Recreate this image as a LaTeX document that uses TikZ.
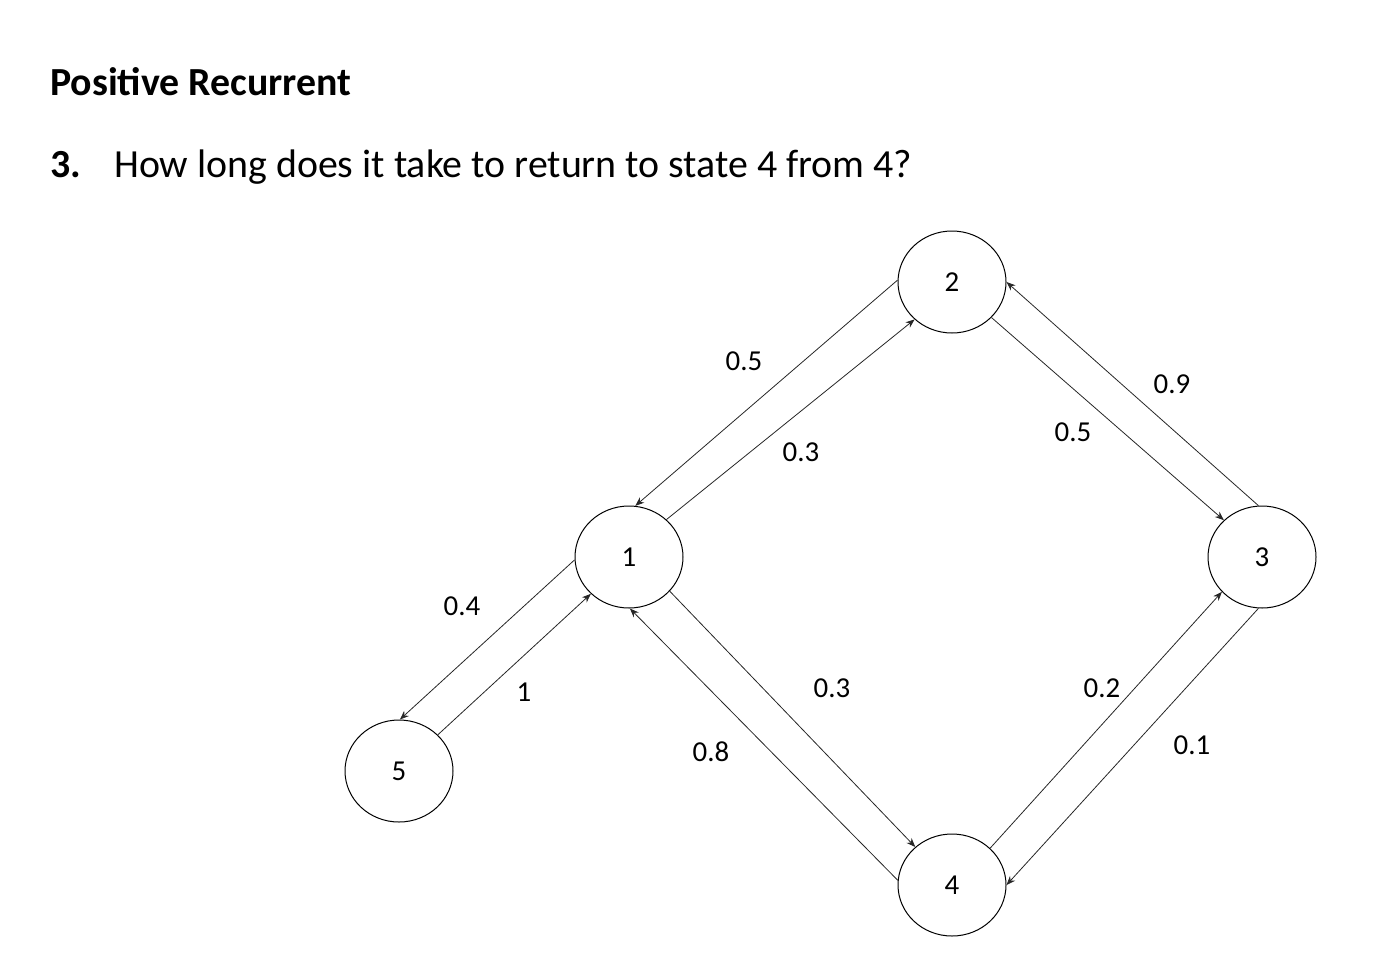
\documentclass[tikz,border=0pt]{standalone}
\usepackage{fontspec}
\setmainfont{Carlito}
\usetikzlibrary{shapes.geometric,arrows.meta}
\begin{document}
\begin{tikzpicture}[x=1bp,y=-1bp,
  st/.style={draw,ellipse,minimum width=108bp,minimum height=102bp,inner sep=0pt,font=\fontsize{29}{34}\selectfont,line width=1bp},
  ed/.style={-{Stealth[length=9bp,width=7bp]},line width=0.8bp,draw=black!85},
  lb/.style={font=\fontsize{29}{34}\selectfont}]
\useasboundingbox (0,0) rectangle (1386,956);
\node[anchor=base west,inner sep=0pt,font=\fontsize{40}{46}\selectfont\bfseries] (title) at (50,95) {Positive Recurrent};
\node[anchor=base west,inner sep=0pt,font=\fontsize{40}{46}\selectfont\bfseries] (num) at (50,177) {3.};
\node[anchor=base west,inner sep=0pt,font=\fontsize{40}{46}\selectfont] (q) at (114,177) {How long does it take to return to state 4 from 4?};
\node[st] (n2) at (952,282) {2};
\node[st] (n1) at (629,557) {1};
\node[st] (n3) at (1262,557) {3};
\node[st] (n5) at (399,771) {5};
\node[st] (n4) at (952,885) {4};
\draw[ed] (n2.178) -- (n1.83);
\draw[ed] (n1.45) -- (n2.225);
\draw[ed] (n2.-42) -- (n3.136);
\draw[ed] (n3.94) -- (n2.0);
\draw[ed] (n1.-40) -- (n4.134);
\draw[ed] (n4.175) -- (n1.-89);
\draw[ed] (n4.44) -- (n3.221);
\draw[ed] (n3.-94) -- (n4.0);
\draw[ed] (n1.183) -- (n5.89);
\draw[ed] (n5.43) -- (n1.224);
\node[lb] (l1) at (744,361) {0.5};
\node[lb] (l2) at (801,452) {0.3};
\node[lb] (l3) at (1172,384) {0.9};
\node[lb] (l4) at (1073,432) {0.5};
\node[lb] (l5) at (462,606) {0.4};
\node[lb] (l6) at (524,692) {1};
\node[lb] (l7) at (832,688) {0.3};
\node[lb] (l8) at (711,752) {0.8};
\node[lb] (l9) at (1102,688) {0.2};
\node[lb] (l10) at (1192,745) {0.1};
\end{tikzpicture}
\end{document}
